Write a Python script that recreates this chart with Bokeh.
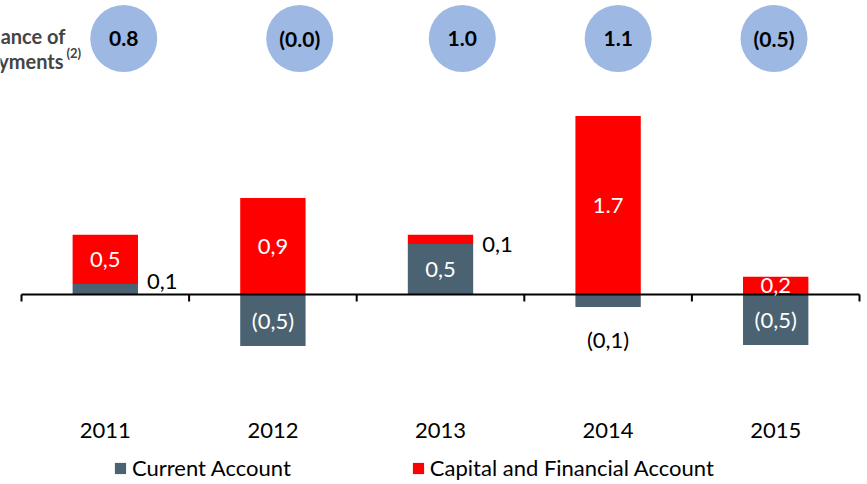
from bokeh.plotting import figure
from bokeh.models import ColumnDataSource, Range1d, Label, Legend, LegendItem
from bokeh.core.properties import value
from bokeh.embed import file_html
from bokeh.resources import INLINE

# ---------------- data ----------------
years = ["2011", "2012", "2013", "2014", "2015"]
current_account = [0.10, -0.49, 0.48, -0.12, -0.48]
capital_financial = [0.47, 0.92, 0.09, 1.70, 0.17]
ca_labels = ["0,1", "(0,5)", "0,5", "(0,1)", "(0,5)"]
cfa_labels = ["0,5", "0,9", "0,1", "1.7", "0,2"]
bop_labels = ["0.8", "(0.0)", "1.0", "1.1", "(0.5)"]

# ---------------- layout / style ----------------
FONT = "Lato"
GREY = "#4B6272"
RED = "#FF0000"
BLUE = "#9DB8E3"
W, H = 867, 484
PX_Y = 105.0          # pixels per unit on y
PX_X = 167.6          # pixels per category
ZERO_PX = 294         # canvas y of zero line
LEFT_PX = 21          # canvas x of first category boundary
BAR_W = 0.39
FS = "22px"

ca_mode = ["right", "in", "in", "below", "in"]
cfa_mode = ["in", "in", "right", "in", "in"]
ca_nudge = [8, 0, 0, -32, 0]      # px, up positive
cfa_nudge = [0, 0, -5, 0, 0]
circle_x = [0.11, 1.16, 2.13, 3.06, 3.99]
circle_y_px = 38                  # canvas y of circle centres
year_y_px = 430
tick_len_px = 7

y_start = -(H - ZERO_PX) / PX_Y
y_end = ZERO_PX / PX_Y
x_start = -0.5 - LEFT_PX / PX_X
x_end = x_start + W / PX_X

p = figure(width=W, height=H, output_backend="svg", toolbar_location=None,
           x_range=Range1d(x_start, x_end), y_range=Range1d(y_start, y_end),
           x_axis_location=None, y_axis_location=None, min_border=0,
           outline_line_color=None, background_fill_color="white",
           border_fill_color="white")
p.xgrid.visible = False
p.ygrid.visible = False

idx = list(range(len(years)))
ca_bottom = [0.0] * len(years)
ca_top = current_account
cfa_bottom = [max(c, 0.0) for c in current_account]
cfa_top = [b + v for b, v in zip(cfa_bottom, capital_financial)]

src = ColumnDataSource(dict(x=idx, ca_b=ca_bottom, ca_t=ca_top,
                            cfa_b=cfa_bottom, cfa_t=cfa_top))
r_ca = p.vbar(x="x", width=BAR_W, bottom="ca_b", top="ca_t", source=src,
              fill_color=GREY, line_color=None)
r_cfa = p.vbar(x="x", width=BAR_W, bottom="cfa_b", top="cfa_t", source=src,
               fill_color=RED, line_color=None)

# zero axis line with ticks
p.segment(x0=[-0.5], y0=[0], x1=[len(years) - 0.5], y1=[0],
          line_color="black", line_width=2)
bounds = [i - 0.5 for i in range(len(years) + 1)]
p.segment(x0=bounds, y0=[0] * len(bounds), x1=bounds,
          y1=[-tick_len_px / PX_Y] * len(bounds), line_color="black", line_width=2)

# value labels
lx, ly, lt, lc, la = [], [], [], [], []
def add_labels(bottoms, tops, labels, modes, nudges):
    for i, (b, t, lab, m, n) in enumerate(zip(bottoms, tops, labels, modes, nudges)):
        lo, hi = min(b, t), max(b, t)
        mid = (lo + hi) / 2
        if m == "in":
            lx.append(i); ly.append(mid + n / PX_Y); lc.append("white"); la.append("center")
        elif m == "right":
            lx.append(i + BAR_W / 2 + 9 / PX_X); ly.append(mid + n / PX_Y)
            lc.append("black"); la.append("left")
        else:
            lx.append(i); ly.append(lo + n / PX_Y); lc.append("black"); la.append("center")
        lt.append(lab)

add_labels(ca_bottom, ca_top, ca_labels, ca_mode, ca_nudge)
add_labels(cfa_bottom, cfa_top, cfa_labels, cfa_mode, cfa_nudge)
lsrc = ColumnDataSource(dict(x=lx, y=ly, t=lt, c=lc, a=la))
p.text(x="x", y="y", text="t", text_color="c", text_align="a", source=lsrc,
       text_baseline="middle", text_font=value(FONT), text_font_size=FS)

# year labels
p.text(x=idx, y=[(ZERO_PX - year_y_px) / PX_Y] * len(years), text=years,
       text_align="center", text_baseline="middle", text_font=value(FONT),
       text_font_size=FS, text_color="black")

# balance of payments circles
cy = (ZERO_PX - circle_y_px) / PX_Y
p.scatter(x=circle_x, y=[cy] * len(circle_x), size=67, marker="circle",
          fill_color=BLUE, line_color=None)
p.text(x=circle_x, y=[cy] * len(circle_x), text=bop_labels, text_align="center",
       text_baseline="middle", text_font=value(FONT), text_font_size="21px",
       text_font_style="bold", text_color="black")

# title at left (cut off by the left edge, as in the reference)
p.add_layout(Label(x=65, y=H - 35, x_units="screen", y_units="screen",
                   text="Balance of", text_align="right", text_baseline="alphabetic",
                   text_font=FONT, text_font_size="20px", text_font_style="bold"))
p.add_layout(Label(x=63, y=H - 60, x_units="screen", y_units="screen",
                   text="Payments", text_align="right", text_baseline="alphabetic",
                   text_font=FONT, text_font_size="20px", text_font_style="bold"))
p.add_layout(Label(x=66, y=H - 52, x_units="screen", y_units="screen",
                   text="(2)", text_align="left", text_baseline="alphabetic",
                   text_font=FONT, text_font_size="13px", text_font_style="bold"))

legend = Legend(items=[LegendItem(label="Current Account", renderers=[r_ca]),
                       LegendItem(label="Capital and Financial Account", renderers=[r_cfa])],
                orientation="horizontal", location=(113, 3),
                glyph_width=14, glyph_height=14, label_standoff=5, spacing=120,
                padding=0, margin=0, border_line_color=None,
                background_fill_alpha=0, label_text_font=FONT,
                label_text_font_size=FS, label_text_color="black")
p.add_layout(legend)

open("out.html", "w").write(file_html(p, INLINE))
